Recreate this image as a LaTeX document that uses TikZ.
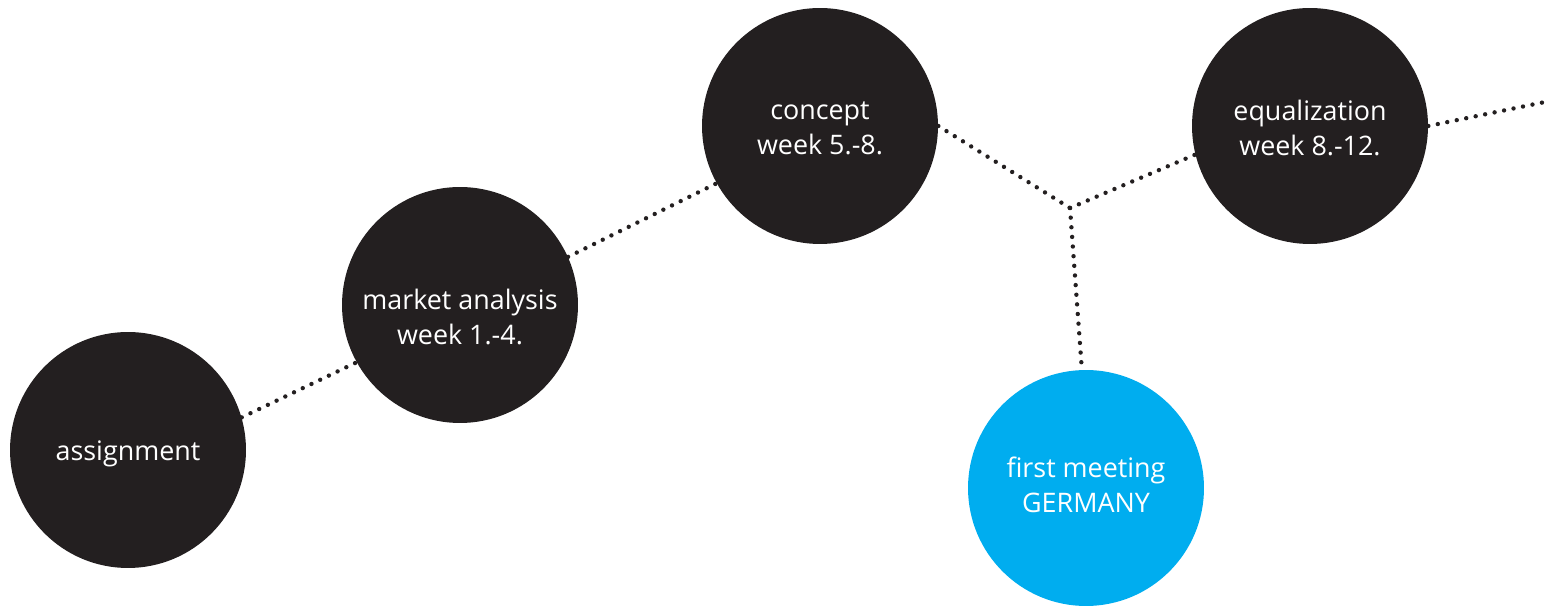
\documentclass[tikz,border=0pt]{standalone}
\usepackage{fontspec}
\setmainfont{Open Sans}
\usetikzlibrary{positioning}
\definecolor{stagegray}{HTML}{231F20}
\definecolor{meetblue}{HTML}{00ADEF}
\tikzset{
 stagetext/.style={text=white,align=center,font=\fontsize{15.3}{20}\selectfont},
 stage/.style={shape=circle,fill=stagegray,inner sep=0pt,
   minimum size=4.72cm,stagetext},
 meet/.style={stage,fill=meetblue},
 dots/.style={draw=stagegray,line width=2.5pt,line cap=round,
   dash pattern=on 0pt off 5.5pt}
}
\begin{document}
\begin{tikzpicture}[x=0.02cm,y=-0.02cm]
\useasboundingbox (0,0) rectangle (1548,607);
\path (128,450) node[stage,name=assign] {};
\path (assign.center)+(0,4) node[stagetext,name=assignlabel] {assignment};
\path (460,305) node[stage,name=market] {};
\path (market.center)+(0,12) node[stagetext,name=marketlabel] {market analysis\\week 1.-4.};
\path (820,126) node[stage,name=concept] {};
\path (concept.center)+(0,2) node[stagetext,name=conceptlabel] {concept\\week 5.-8.};
\path (1310,126) node[stage,name=equal] {};
\path (equal.center)+(0,2) node[stagetext,name=equallabel] {equalization\\week 8.-12.};
\path (1086,488) node[meet,name=meeting] {};
\path (meeting.center)+(0,-3) node[stagetext,name=meetinglabel] {first meeting\\GERMANY};

\path (1070,208) coordinate (fork);
\path (1545,102) coordinate (out);

%time line
\path[dots] (assign.16) edge (market.209);
\path[dots] (market.24) edge (concept.209);
\path[dots] (concept.0) edge (fork);
\path[dots] (fork) edge (equal.194);
\path[dots] (fork) edge (meeting.92);
\path[dots] (equal.0) edge (out);
\end{tikzpicture}
\end{document}
